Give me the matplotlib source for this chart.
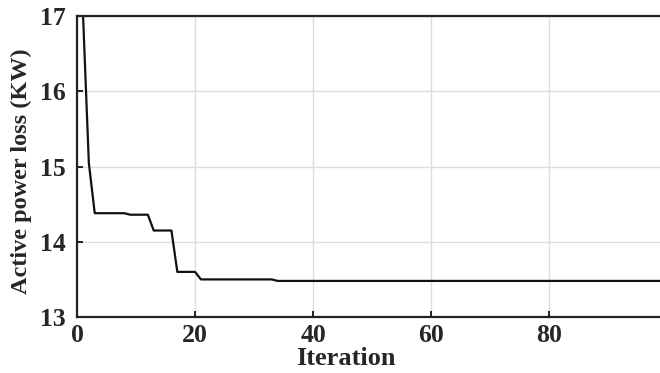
import matplotlib
matplotlib.use("Agg")
from matplotlib import pyplot as plt

# iterations where the best loss changes (linear between them)
iterations = [1, 2, 3, 8, 9, 12, 13, 16, 17, 20, 21, 33, 34, 99]
power_loss = [17.05, 15.05, 14.38, 14.38, 14.36, 14.36, 14.15, 14.15,
              13.6, 13.6, 13.5, 13.5, 13.48, 13.48]

x_ticks = [0, 20, 40, 60, 80]
y_ticks = [13, 14, 15, 16, 17]

plt.rcParams["font.family"] = "Liberation Serif"
plt.rcParams["font.weight"] = "bold"

fig = plt.figure(figsize=(6.6, 3.73), dpi=100)
ax = fig.add_axes([0.1167, 0.150, 0.8833, 0.807])

ax.plot(iterations, power_loss, color="#111111", linewidth=1.6)

ax.set_xlim(0, 98.8)
ax.set_ylim(13, 17)
ax.set_xticks(x_ticks)
ax.set_yticks(y_ticks)
ax.grid(True, color="#dddddd", linewidth=1.0)
ax.set_axisbelow(True)

ax.spines["right"].set_visible(False)
for s in ["left", "bottom", "top"]:
    ax.spines[s].set_linewidth(1.6)
    ax.spines[s].set_color("#222222")

ax.tick_params(direction="in", length=4, width=1.2, labelsize=18.5,
               labelcolor="#262626", top=False, right=False)
ax.tick_params(axis="x", pad=5)
ax.tick_params(axis="y", pad=8)

ax.set_xlabel("Iteration", fontsize=19, fontweight="bold", color="#262626")
ax.xaxis.set_label_coords(0.461, -0.1)
ax.set_ylabel("Active power loss (KW)", fontsize=17.5, fontweight="bold", color="#262626")
ax.yaxis.set_label_coords(-0.078, 0.485)

fig.savefig("out.png", dpi=100)
